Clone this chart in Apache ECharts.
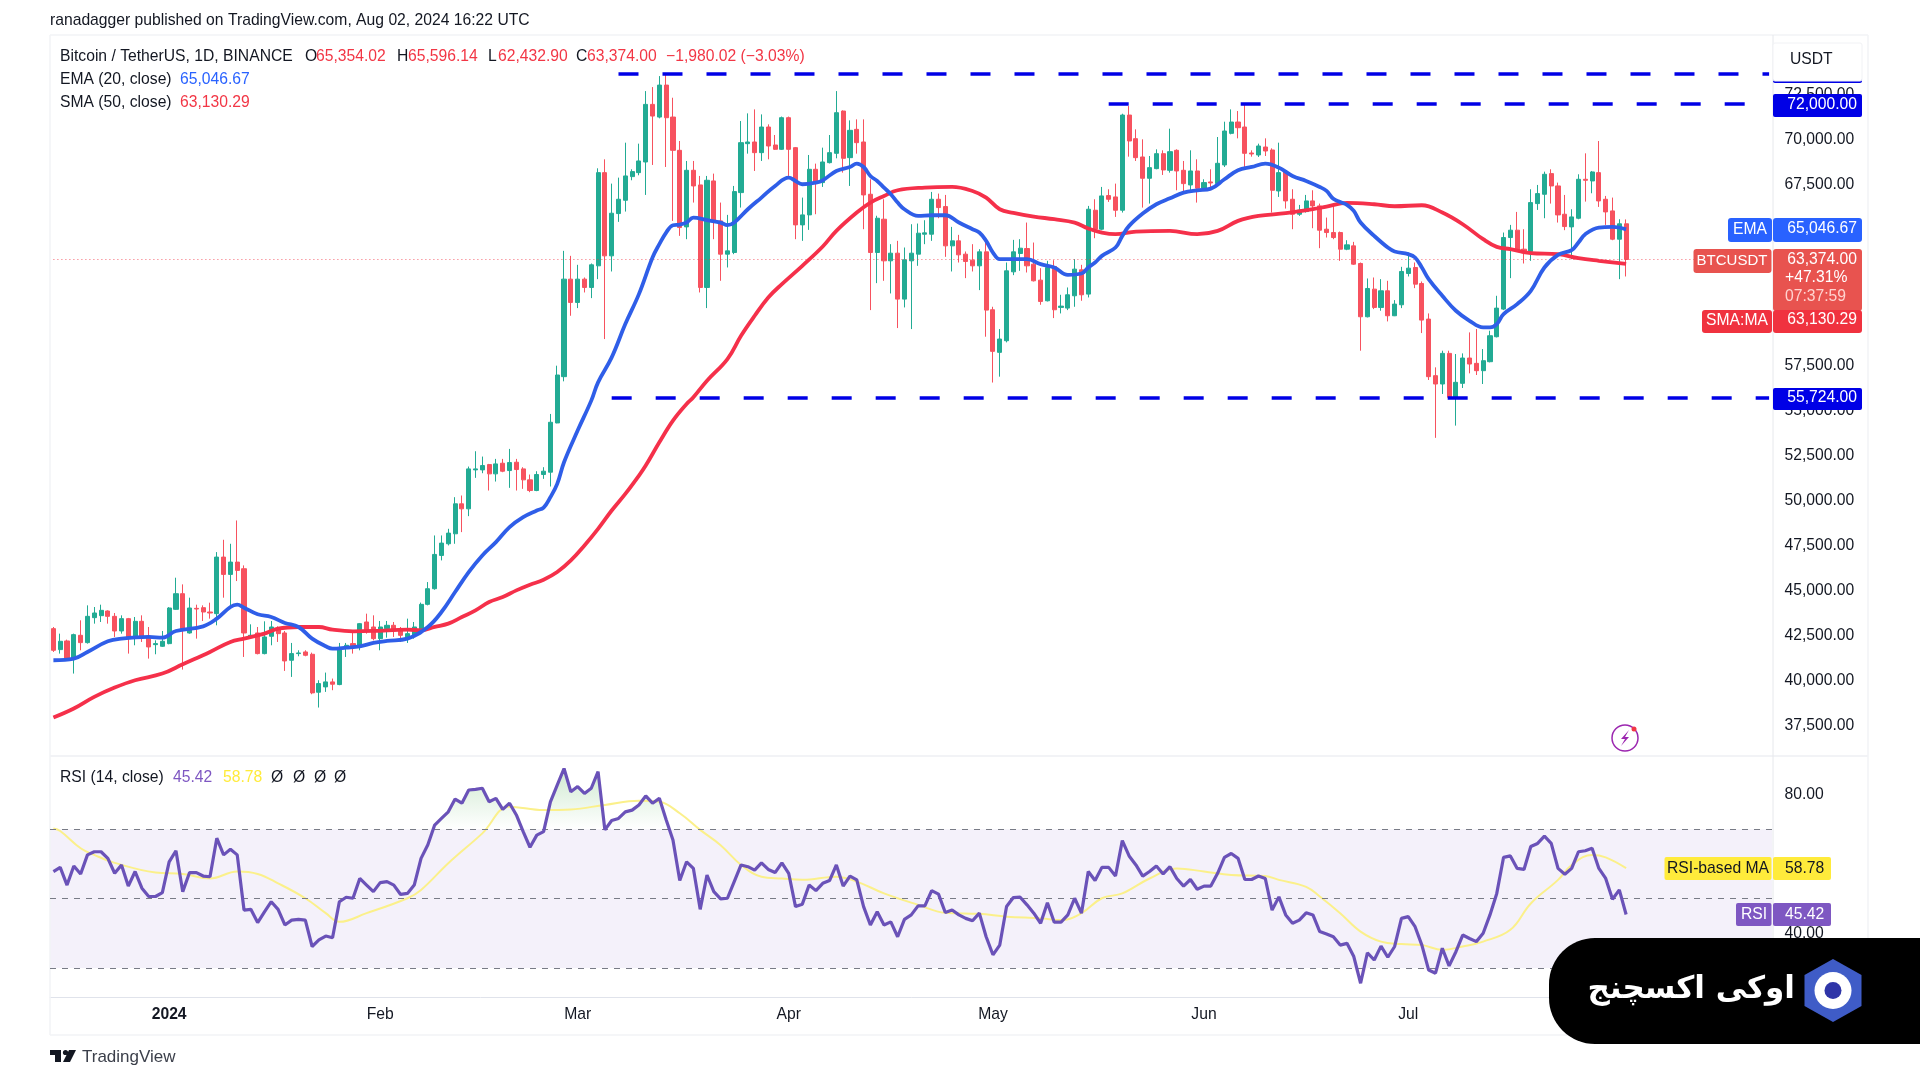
<!DOCTYPE html>
<html><head><meta charset="utf-8">
<style>html,body{margin:0;padding:0;background:#fff}#c{width:1920px;height:1081px}</style>
<script src="https://cdn.jsdelivr.net/npm/echarts@6/dist/echarts.min.js"></script>
</head><body><div id="c"></div>
<script>
const opens=[42906,41743,42223,41245,42537,42131,43515,43626,43884,43589,
42777,43460,42482,43312,42482,42020,41928,42076,43977,44844,
42666,44032,44069,43829,43737,46874,45914,46597,46228,42482,
42666,41522,42482,42906,42666,41153,41522,41614,41485,39381,
39676,39953,39806,41836,42076,41891,43275,42998,42352,42906,
43091,42906,42445,42537,42813,44253,45120,46966,47612,48166,
49827,49550,51709,51709,52004,51488,52078,51672,52134,51764,
51156,50565,51452,51581,54312,56878,62285,60993,62285,61824,
63024,68191,63577,65921,66659,67970,68191,68782,71975,71273,
73045,71273,69428,65183,68321,67509,61824,67730,65515,63670,
63762,67084,69797,69890,69299,70720,69723,69484,71237,69576,
65294,65848,68376,67638,68745,69262,71606,69022,70591,69890,
66992,63762,65608,63301,63725,61178,63301,63670,64777,64777,
66715,66309,64131,64408,63670,63338,63024,63799,60588,58225,
58871,62691,63707,63983,63116,62230,61086,62987,60717,60680,
61363,62802,61455,66106,65054,66918,66844,66106,71384,70074,
69059,67878,68413,69243,68320,69428,68320,67508,68284,67324,
67675,67582,68616,70369,70997,70720,69280,69170,69612,69446,
67176,68228,66715,65884,66032,66623,66346,65054,64869,64869,
63946,64130,63153,60200,61731,60716,61639,60255,60864,62599,
62931,62045,60070,56933,56471,58169,55733,56508,57911,57616,
57210,57708,59092,60624,64592,65000,63946,63817,66475,66991,
68136,67453,65884,65183,65662,67822,67730,68191,66714,66068,
64500,65354.02];
const closes=[41706,42205,41190,42574,42131,43589,43774,43921,43589,42777,
43460,42352,43312,42445,41891,42076,42205,44050,44844,42814,
44050,43995,43829,43774,46874,45914,46597,46136,42666,42537,
41522,42445,42998,42629,41116,41522,41559,41430,39344,39861,
39953,39824,41799,41983,41854,43183,42814,42352,42998,43091,
42851,42537,42629,42998,44253,45120,47021,47649,48203,49827,
49550,51764,51764,51949,51488,52041,51635,52115,51728,51156,
50565,51451,51636,54349,56970,62285,60993,62285,61824,63079,
68191,63577,65940,66715,68007,68247,68837,71975,71329,73045,
71236,69428,65146,68320,67453,61824,67767,65515,63670,63854,
67140,69853,69890,69299,70720,69668,69484,71237,69484,65294,
65848,68376,67638,68782,69299,71514,68985,70536,69853,66955,
63762,65663,63301,63725,61178,63356,63725,64833,64852,66715,
66254,64131,64408,63633,63264,63024,63799,60569,58281,58964,
62747,63799,64002,63024,62193,61049,62931,60587,60790,61418,
62839,61418,66161,65054,66899,66715,66106,71384,69945,69022,
67878,68468,69243,68339,69354,68284,67582,68284,67324,67638,
67619,68708,70498,70997,70683,69262,69225,69668,69391,67213,
68191,66623,65884,66106,66623,66346,64998,64869,64592,63946,
64186,63116,60200,61768,60716,61639,60255,60901,62710,62894,
62008,60015,56878,56471,58169,55733,56564,57911,57579,57210,
57763,59148,60679,64592,65000,63891,63743,66530,67028,68099,
67453,65847,65201,65736,67822,67767,68228,66622,66013,64500,
65354,63374];
const highs=[42998,42629,42297,42629,43368,44198,44106,44235,43921,43774,
43644,43500,43552,43644,42998,42260,42777,44100,45730,45361,
44623,44235,44198,44346,47151,47834,47612,48904,46413,43146,
42998,43312,43331,43035,42777,42113,41706,41706,41577,40045,
40470,40138,42113,42113,42814,43220,43737,43644,43331,43331,
43275,42998,43460,43275,44350,45489,48073,48073,48442,50196,
50288,51894,52743,52447,52041,52318,52318,52872,52318,51857,
51451,51635,51858,54811,57487,63854,63577,63079,62378,63153,
68431,68929,67582,67914,69852,68376,69797,72713,72934,73544,
73650,72344,69945,68837,68838,68007,68007,68136,66531,65848,
67453,71052,71477,71698,71421,70868,70277,71300,71300,69613,
66807,69170,68690,69576,70277,72713,71643,71089,71145,71145,
67822,65800,66715,64224,64408,64039,65331,65368,65552,67121,
67029,66955,65183,64740,63818,64224,63947,64593,60754,59517,
63208,64463,64500,65423,64315,62894,63300,63337,61418,61824,
63393,63079,66346,66715,67398,67269,67582,71458,71882,70591,
70037,69114,69483,69428,70627,69483,68837,69428,68930,67822,
68376,70166,71015,71698,71606,71979,69428,69797,70092,69539,
69852,68284,67269,66401,66955,67213,66475,65700,66345,64924,
64444,64352,63208,62322,62377,62285,62193,61122,62968,63762,
63208,62156,60384,57394,58317,58317,58133,58169,59332,59517,
58409,59425,61362,64869,65293,66013,65054,67268,67508,68246,
68376,67637,66954,66161,68099,69261,68283,69944,66899,66807,
65607,65596.14];
const lows=[41614,41522,41153,40415,41706,42076,43183,43275,43183,42445,
42629,41522,41983,42168,41245,41485,41891,42039,43950,40636,
42629,42352,43331,43460,43091,44623,44198,45545,41337,42352,
41480,41480,41983,42168,40562,40230,41374,41374,39270,38532,
39399,39492,39769,41337,41522,41706,42629,42260,41706,42408,
42445,42168,42113,42352,42721,44197,45065,46689,47520,47612,
48258,49144,51266,51525,50565,51063,51580,50713,50565,50657,
50473,50528,51212,50787,54294,56619,60255,60680,61547,61233,
62285,58963,62710,65460,66032,67767,68044,66955,68616,71200,
68505,65515,64685,64500,66531,61547,60680,64500,62193,62932,
63670,66254,69244,68284,68838,68930,69447,69447,68007,64500,
64408,65017,65885,67398,68700,68985,68192,67453,69244,65054,
60569,62064,62193,61492,59573,60717,59517,63024,64224,64408,
65663,63522,62710,63208,62341,62710,61677,59093,56552,56878,
58779,62507,62747,62654,62156,60864,61049,60126,60384,60569,
60753,61086,61270,64555,64998,66567,65737,65977,69077,68837,
66253,66475,68376,68062,68191,67213,67084,67176,66530,67269,
67213,67508,68505,70314,70092,68431,69077,69059,69114,65977,
66844,66198,65054,65792,65977,65109,64002,64592,64500,63300,
63891,63079,58317,60163,60624,60532,59941,60236,60679,62433,
61787,59295,56693,53485,55918,55641,54164,56250,57062,56970,
56471,57671,59055,60569,62340,63817,63153,63300,66124,65663,
66475,65423,65000,63392,65607,66585,67047,66290,65293,64444,
62285,62432.9];
// EMA / SMA: [candle index, value] at the marked positions
const emaPoints=[[0,41153],[3,41245],[5,41614],[8,42205],[10,42352],[14,42445],[16,42408],[18,42777],[22,43035],[24,43460],[26,44106],[27,44235],[28,44069],[30,43700],[32,43552],[34,43220],[36,42998],[38,42352],[40,41928],[41,41799],[43,41854],[45,41928],[47,42113],[49,42223],[52,42352],[55,43000],[57,43829],[59,44936],[61,46043],[63,46966],[65,47704],[67,48535],[69,49088],[71,49457],[72,49620],[73,50196],[74,50935],[75,52135],[77,53888],[79,55549],[80,56564],[82,57948],[84,59794],[86,61455],[88,63485],[89,64223],[90,64869],[91,65275],[92,65312],[93,65423],[94,65700],[96,65552],[98,65423],[99,65276],[100,65423],[102,66161],[104,66807],[106,67453],[108,67915],[109,67730],[110,67546],[112,67638],[113,67767],[115,68284],[117,68505],[118,68690],[119,68505],[120,68007],[121,67730],[122,67361],[123,66992],[124,66530],[125,66161],[127,65792],[129,65829],[131,65829],[133,65423],[135,65054],[136,64869],[137,64408],[138,63762],[139,63393],[141,63393],[143,63393],[145,63116],[147,62931],[149,62525],[151,62599],[152,62931],[153,63208],[154,63577],[156,64039],[157,64685],[158,65238],[160,65921],[162,66438],[164,66770],[166,67084],[168,67213],[170,67305],[172,67822],[174,68320],[176,68505],[178,68690],[180,68468],[182,68007],[184,67730],[186,67398],[187,67176],[188,66740],[189,66567],[190,66401],[191,66068],[192,65423],[194,64684],[196,64038],[197,63817],[199,63669],[200,63485],[201,62931],[202,62285],[204,61362],[206,60532],[208,59978],[210,59609],[211,59609],[212,59793],[213,60347],[215,60901],[217,61639],[219,62931],[221,63632],[223,63891],[224,64315],[225,64777],[227,65146],[229,65183],[231,65046.67]];
const smaPoints=[[0,37978],[3,38477],[6,39122],[9,39639],[12,40045],[16,40415],[19,40931],[23,41614],[26,42168],[28,42352],[31,42629],[33,42906],[36,42998],[39,42998],[41,42851],[44,42759],[47,42777],[52,42851],[54,42813],[56,43000],[58,43183],[60,43551],[62,43921],[64,44382],[66,44659],[68,45028],[70,45342],[72,45619],[74,46043],[76,46689],[78,47520],[80,48442],[82,49457],[84,50380],[86,51395],[87,51950],[89,53242],[91,54442],[93,55365],[94,55734],[96,56656],[99,57856],[101,59148],[103,60256],[105,61270],[107,62009],[110,63024],[113,64094],[115,64962],[118,65977],[120,66531],[122,66900],[124,67214],[128,67361],[132,67398],[135,67176],[137,66807],[139,66161],[141,65965],[144,65755],[147,65608],[150,65423],[152,65091],[154,64869],[156,64777],[159,64925],[164,64961],[168,64777],[171,64961],[174,65515],[177,65792],[181,65940],[185,66161],[187,66309],[190,66511],[194,66438],[197,66327],[201,66382],[204,65976],[207,65330],[210,64500],[212,64075],[214,63946],[217,63725],[221,63669],[224,63448],[227,63300],[231,63130.29]];
const rsiValues=[57.8,59.0,53.9,59.4,57.1,62.6,63.5,63.5,61.6,57.3,
59.7,53.6,57.8,53.0,50.6,50.6,51.7,60.6,63.8,52.0,
57.5,57.5,56.5,56.3,67.4,62.6,64.2,62.6,46.7,46.9,
43.1,46.2,49.1,46.9,42.4,43.8,44.0,43.8,36.2,38.1,
39.2,38.7,49.1,50.4,50.1,55.8,53.9,52.0,54.6,54.9,
53.9,51.2,51.5,53.9,61.6,65.5,71.2,73.1,75.0,78.7,
77.5,81.3,81.5,81.8,77.9,78.9,75.7,77.5,74.1,69.3,
64.8,68.3,69.3,77.9,82.7,87.5,80.8,82.3,80.3,81.8,
86.6,69.8,72.5,73.1,75.0,75.5,77.0,79.6,77.5,78.9,
72.7,66.9,55.2,60.6,58.7,46.9,56.8,52.0,49.9,50.1,
54.9,59.7,59.2,58.2,60.3,58.4,57.5,60.3,57.3,47.7,
48.4,53.9,52.3,54.4,55.2,59.7,53.6,56.5,55.4,47.7,
42.4,46.2,42.4,43.3,39.0,44.0,45.3,47.9,47.9,52.3,
51.3,46.0,46.7,45.3,44.3,43.6,45.8,39.0,33.8,36.6,
47.7,50.3,50.4,48.2,45.8,42.9,48.8,43.2,43.2,45.3,
50.1,45.8,57.8,55.2,59.0,59.0,56.5,66.7,62.3,59.7,
56.5,57.8,59.4,57.1,59.2,55.8,53.6,55.5,52.7,53.6,
53.6,57.3,61.9,63.0,61.6,55.5,55.5,56.5,55.8,46.7,
50.5,45.3,42.9,43.8,45.9,45.3,40.5,39.8,39.0,36.6,
37.1,33.3,25.6,34.4,32.3,36.3,33.1,36.2,44.3,44.8,
41.9,36.6,29.4,28.5,35.7,30.6,34.7,39.5,38.5,37.6,
40.0,45.3,51.5,61.9,62.3,58.7,58.4,65.0,65.9,68.0,
65.9,58.7,57.0,58.7,63.5,63.8,64.5,58.7,55.8,49.8,
52.5,45.42];
const rsiMaPoints=[[0,70.2],[1,69.5],[4,64.5],[6,62.6],[9,60.3],[15,57.5],[19,57.1],[23,55.8],[27,57.8],[30,57.1],[33,54.4],[37,50.1],[40,45.8],[42,43.3],[46,45.8],[52,50.1],[54,52.5],[58,60.2],[63,68.8],[67,76.5],[72,75.5],[76,75.7],[81,77.0],[86,78.2],[89,77.9],[92,74.6],[95,69.8],[98,65.4],[101,59.7],[104,56.3],[107,55.8],[110,55.4],[115,56.3],[118,54.9],[122,51.5],[127,48.2],[131,45.9],[136,45.6],[140,44.8],[145,44.3],[148,43.8],[151,45.8],[154,50.1],[157,51.5],[161,55.8],[165,58.7],[169,57.8],[173,56.8],[178,56.5],[180,55.4],[184,53.4],[186,50.6],[189,45.8],[192,40.5],[195,37.6],[198,36.9],[201,36.6],[204,35.2],[207,36.2],[210,37.6],[214,41.0],[217,48.6],[221,55.4],[223,59.7],[226,62.6],[228,61.9],[231,58.78]];
const priceTicks=[37500,40000,42500,45000,47500,50000,52500,55000,57500,60000,62500,65000,67500,70000,72500];
const rsiTicks=[40,80];
const rsiBands=[70,50,30];
const levels=[{value:73650,from:83,to:252},{value:72000,from:155,to:249},{value:55724,from:82,to:252}];
const lastClose=63374;
const monthLabels={17:'2024',48:'Feb',77:'Mar',108:'Apr',138:'May',169:'Jun',199:'Jul',230:'Aug'};
const SLOTS=253;
const categories=[];
for(let i=0;i<SLOTS;i++){categories.push(new Date(Date.UTC(2023,11,15+i)).toISOString().slice(0,10));}

const F='"Liberation Sans",sans-serif';
const FS=15.7, INK='#131722', RED='#f23645', BLUE='#2962ff', UP='#22ab94', DOWN='#f7525f', LVL='#0000e6';
const candle=opens.map((o,i)=>[o,closes[i],lows[i],highs[i]]);
const rsiOver=rsiValues.map(v=>Math.max(v,70));
const rsiUnder=rsiValues.map(v=>Math.min(v,30));
const money=v=>v.toLocaleString('en-US',{minimumFractionDigits:2,maximumFractionDigits:2});

function T(x,y,text,fill,o={}){return {type:'text',z:o.z||120,style:{x,y:y+1,text,fill,font:`${o.w||'normal'} ${o.s||FS}px ${o.f||F}`,textAlign:o.a||'left',textVerticalAlign:'middle',opacity:o.op==null?1:o.op}};}
function R(x,y,w,h,fill,r,o={}){return {type:'rect',z:o.z||110,shape:{x,y,width:w,height:h,r:r||0},style:{fill,stroke:o.stroke,lineWidth:o.lw||0}};}
function L(x1,y1,x2,y2,c,w){return {type:'line',z:5,shape:{x1,y1,x2,y2},style:{stroke:c,lineWidth:w||1}};}
function P(points,fill,z){return {type:'polygon',z:z||130,shape:{points},style:{fill}};}
function C(cx,cy,r,fill,o={}){return {type:'circle',z:o.z||131,shape:{cx,cy,r},style:{fill,stroke:o.stroke,lineWidth:o.lw||0}};}

const frame='#f2f3f6';
const graphics=[
 L(50,35,1868,35,frame,1.5),L(50,35,50,1035,frame,1.5),L(50,1035,1868,1035,frame,1.5),L(1868,35,1868,1035,frame,1.5),
 L(50,756,1868,756,frame,2),L(1773,35,1773,1035,'#e6e8ec',1),
 T(50,20,'ranadagger published on TradingView.com, Aug 02, 2024 16:22 UTC',INK),
 T(60,56,'Bitcoin / TetherUS, 1D, BINANCE',INK),
 T(305,56,'O',INK),T(316,56,'65,354.02',RED),
 T(397,56,'H',INK),T(408,56,'65,596.14',RED),
 T(488,56,'L',INK),T(498,56,'62,432.90',RED),
 T(576,56,'C',INK),T(587,56,'63,374.00',RED),
 T(666,56,'\u22121,980.02 (\u22123.03%)',RED),
 T(60,79,'EMA (20, close)',INK),T(180,79,'65,046.67',BLUE),
 T(60,102,'SMA (50, close)',INK),T(180,102,'63,130.29',RED),
 T(60,777,'RSI (14, close)',INK),T(173,777,'45.42','#7e57c2'),T(223,777,'58.78','#ffeb3b'),
 T(271,777,'\u00d8',INK),T(293,777,'\u00d8',INK),T(314,777,'\u00d8',INK),T(334,777,'\u00d8',INK),
 // price axis tags
 R(1773,63,89,20,LVL,2),
 R(1773,43,89,38,'#ffffff',2,{stroke:'#f1f2f5',lw:1}),T(1790,59,'USDT',INK),
 R(1773,94,89,23,LVL,2),T(1857,104,'72,000.00','#fff',{a:'right'}),
 R(1728,218,44,24,BLUE,3),T(1750,229,'EMA','#fff',{a:'center'}),
 R(1773,218,89,24,BLUE,3),T(1857,228,'65,046.67','#fff',{a:'right'}),
 R(1693.5,249,78,24,'#e8534f',3),T(1732,260,'BTCUSDT','#fff',{a:'center',s:15}),
 R(1773,249,89,62,'#e8534f',3),T(1857,259,'63,374.00','#fff',{a:'right'}),
 T(1785,277,'+47.31%','#fff'),T(1785,296,'07:37:59','#ffd3cf'),
 R(1702,310,70,23,'#f0323f',3),T(1737,320,'SMA:MA','#fff',{a:'center'}),
 R(1773,310,89,23,'#f0323f',3),T(1857,319,'63,130.29','#fff',{a:'right'}),
 R(1773,388,89,22,LVL,2),T(1857,397,'55,724.00','#fff',{a:'right'}),
 // RSI axis tags
 R(1664.5,857,107,23,'#ffeb3b',2),T(1718,868,'RSI-based MA',INK,{a:'center'}),
 R(1773,857,58,23,'#ffeb3b',2),T(1785,868,'58.78',INK),
 R(1736,903,35.5,23,'#7e57c2',2),T(1754,914,'RSI','#fff',{a:'center'}),
 R(1773,903,58,23,'#7e57c2',2),T(1785,914,'45.42','#fff'),
 // bolt marker
 C(1625,738,13,'#fff',{stroke:'#9c27b0',lw:1.5}),
 P([[1629,730],[1621,739],[1625,739],[1621,746],[1629,737],[1625,737]],'#9c27b0',132),
 C(1634,729,2.5,'#f23645',{z:133}),
 // TradingView mark
 P([[50,1050],[61,1050],[61,1062],[55,1062],[55,1055],[50,1055]],INK),
 C(65.5,1052.5,2.6,INK),P([[69,1050],[76,1050],[70,1062],[63,1062]],INK),
 T(82,1056,'TradingView','#3c404b',{s:17}),
 // badge
 {type:'rect',z:140,shape:{x:1549,y:938,width:400,height:106,r:[46,0,0,46]},style:{fill:'#000'}},
 T(1795,989,'\u0627\u0648\u06a9\u06cc \u0627\u06a9\u0633\u0686\u0646\u062c','#fff',{z:141,a:'right',s:31,w:'bold',f:'"DejaVu Sans",sans-serif'}),
 P([[1833,959],[1861.5,975],[1861.5,1006],[1833,1022],[1804.5,1006],[1804.5,975]],'#3f5cc7',142),
 C(1833,990.5,18.5,'#fff',{z:143}),C(1833,990.5,8.5,'#2f35a8',{z:144})
];

const chart=echarts.init(document.getElementById('c'),null,{renderer:'canvas'});
chart.setOption({
 animation:false,backgroundColor:'#fff',
 grid:[{left:50,width:1722.5,top:36,height:719},{left:50,width:1722.5,top:757,height:240}],
 xAxis:[
  {type:'category',gridIndex:0,data:categories,boundaryGap:true,show:false},
  {type:'category',gridIndex:1,data:categories,boundaryGap:true,
   axisLine:{lineStyle:{color:'#e0e3eb',width:1}},axisTick:{show:false},splitLine:{show:false},
   axisLabel:{margin:10,color:INK,fontFamily:F,fontSize:FS,showMinLabel:true,showMaxLabel:false,hideOverlap:false,
    interval:(i)=>monthLabels[i]!==undefined,
    formatter:(v,i)=>{const m=monthLabels[i];return m==='2024'?'{b|2024}':(m||'');},
    rich:{b:{fontWeight:'bold',fontFamily:F,fontSize:FS,color:INK}}}}
 ],
 yAxis:[
  {type:'value',gridIndex:0,position:'right',min:35900,max:75767,scale:true,
   axisLine:{show:false},axisTick:{show:false,customValues:priceTicks},splitLine:{show:false},
   axisLabel:{customValues:priceTicks,margin:12,color:INK,fontFamily:F,fontSize:FS,align:'left',formatter:money}},
  {type:'value',gridIndex:1,position:'right',min:21.64,max:90.81,
   axisLine:{show:false},axisTick:{show:false,customValues:rsiTicks},splitLine:{show:false},
   axisLabel:{customValues:rsiTicks,margin:12,color:INK,fontFamily:F,fontSize:FS,align:'left',formatter:v=>v.toFixed(2)}}
 ],
 series:[
  {name:'BTCUSDT',type:'candlestick',xAxisIndex:0,yAxisIndex:0,data:candle,barWidth:4.6,z:3,
   itemStyle:{color:UP,color0:DOWN,borderColor:UP,borderColor0:DOWN,borderWidth:1},
   markLine:{silent:true,symbol:'none',z:4,label:{show:false},data:[
     [{coord:[0,lastClose],lineStyle:{color:'rgba(242,54,69,0.75)',type:[1,3],width:1}},{coord:[SLOTS-1,lastClose]}],
     ...levels.map(l=>[{coord:[l.from,l.value],lineStyle:{color:LVL,type:[20,24],width:3.5}},{coord:[l.to,l.value]}])
   ]}},
  {name:'EMA',type:'line',xAxisIndex:0,yAxisIndex:0,data:emaPoints,showSymbol:false,smooth:0.4,z:6,lineStyle:{color:'#2f5ee8',width:3.8}},
  {name:'SMA',type:'line',xAxisIndex:0,yAxisIndex:0,data:smaPoints,showSymbol:false,smooth:0.4,z:5,lineStyle:{color:'#f5304a',width:3.8}},
  {name:'RSI over',type:'line',xAxisIndex:1,yAxisIndex:1,data:rsiOver,showSymbol:false,z:2,lineStyle:{width:0},
   areaStyle:{origin:70,color:{type:'linear',x:0,y:0,x2:0,y2:1,colorStops:[{offset:0,color:'rgba(76,175,80,0.38)'},{offset:1,color:'rgba(76,175,80,0)'}]}}},
  {name:'RSI under',type:'line',xAxisIndex:1,yAxisIndex:1,data:rsiUnder,showSymbol:false,z:2,lineStyle:{width:0},
   areaStyle:{origin:30,color:'rgba(242,54,69,0.08)'}},
  {name:'RSI MA',type:'line',xAxisIndex:1,yAxisIndex:1,data:rsiMaPoints,showSymbol:false,smooth:0.4,z:4,lineStyle:{color:'#fbf08a',width:2}},
  {name:'RSI',type:'line',xAxisIndex:1,yAxisIndex:1,data:rsiValues,showSymbol:false,z:5,lineStyle:{color:'#6a52b8',width:3.2},
   markArea:{silent:true,itemStyle:{color:'rgba(126,87,194,0.085)'},data:[[{coord:[0,70],x:50},{coord:[SLOTS-1,30],x:1772}]]},
   markLine:{silent:true,symbol:'none',label:{show:false},lineStyle:{color:'#787b86',type:[6,6],width:1},
    data:rsiBands.map(v=>[{x:50,yAxis:v},{x:1772,yAxis:v}])}}
 ],
 graphic:{elements:graphics}
});
</script></body></html>
